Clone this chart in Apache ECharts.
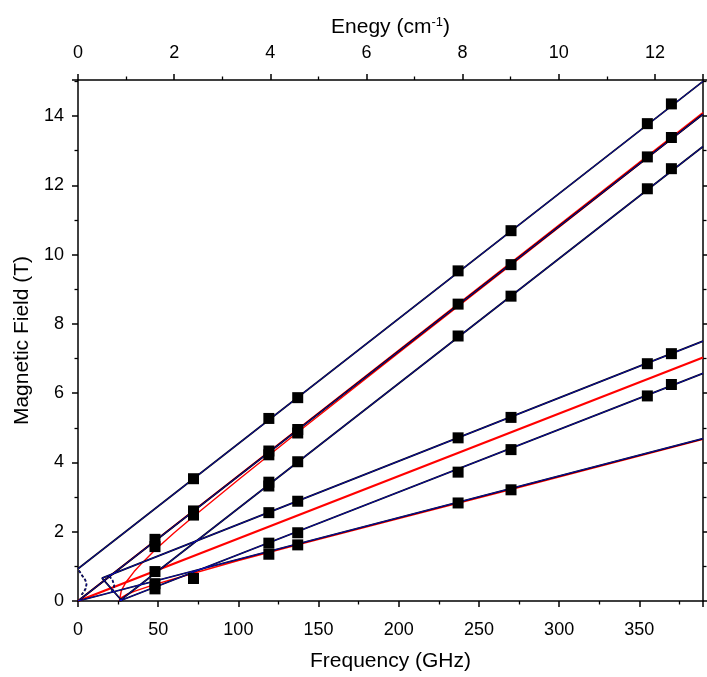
<!DOCTYPE html>
<html>
<head>
<meta charset="utf-8">
<script src="https://cdn.jsdelivr.net/npm/echarts@6/dist/echarts.min.js"></script>
<style>
html,body{margin:0;padding:0;background:#fff;}
#c{width:707px;height:677px;}
</style>
</head>
<body>
<div id="c"></div>
<script>
// ---- Data (Frequency GHz, Field T) ----
const freqs = [48, 72, 119, 137, 237, 270, 355, 370];
const fieldsAt48  = [1.78, 1.57, 0.85, 0.50, 0.35];
const fieldsAt72  = [3.53, 2.60, 2.48, 0.65];
const fieldsAt119 = [5.27, 4.33, 4.22, 3.43, 3.32, 2.55, 1.67, 1.35];
const fieldsAt137 = [5.87, 4.95, 4.85, 4.02, 2.88, 1.97, 1.62];
const fieldsAt237 = [9.53, 8.57, 7.65, 4.71, 3.72, 2.83];
const fieldsAt270 = [10.69, 9.71, 8.80, 5.30, 4.37, 3.21];
const fieldsAt355 = [13.78, 12.82, 11.90, 6.85, 5.92];
const fieldsAt370 = [14.35, 13.38, 12.48, 7.14, 6.25];

// navy (simulated) branches
const navyA = [[0, 0.93], [389.7, 15.0]];
const navyB = [[0, 0], [389.7, 14.05]];
const navyC = [[25.8, 0], [389.7, 13.12]];
const navyD = [[27.5, 0], [15, 0.66], [389.7, 7.5]];
const navyF = [[25.8, 0], [389.7, 6.57]];
const navyG = [[0, 0], [389.7, 4.69]];
// dashed low-field loops
const dashLoop1 = [[0.6, 0.88], [2.5, 0.74], [4.6, 0.6], [5.3, 0.48], [4.8, 0.36], [3.6, 0.26], [2.2, 0.18]];
const dashLoop2 = [[19.5, 0.72], [21.5, 0.6], [22.6, 0.45], [22, 0.33], [20.5, 0.25]];
// red (simulated) branches
const redB  = [[0, 0], [389.7, 14.1]];
const redB2 = [[25.8, 0], [27, 0.3], [30, 0.55], [35, 0.85], [40, 1.1], [48, 1.47], [60, 1.97], [72, 2.44], [100, 3.5], [137, 4.87], [200, 7.17], [270, 9.7], [389.7, 14.05]];
const redE  = [[0, 0], [389.7, 7.03]];
const redG  = [[25.8, 0], [27, 0.1], [30, 0.18], [35, 0.28], [48, 0.48], [72, 0.8], [100, 1.17], [137, 1.62], [200, 2.38], [270, 3.22], [389.7, 4.67]];

// axis ranges
const freqMax = 389.7;
const energyMax = 13;
const fieldMax = 15.04;

const obs = [];
[fieldsAt48, fieldsAt72, fieldsAt119, fieldsAt137, fieldsAt237, fieldsAt270, fieldsAt355, fieldsAt370]
  .forEach((arr, i) => arr.forEach(v => obs.push([freqs[i], v])));

const FONT = 'Liberation Sans, Arial, sans-serif';
const series = [];
function redLine(d, w) {
  series.push({type: 'line', data: d, showSymbol: false, silent: true,
    lineStyle: {color: '#ff0000', width: w}, z: 2});
}
function navyLine(d, dashed) {
  series.push({type: 'line', data: d, showSymbol: false, silent: true,
    lineStyle: {color: '#000000', width: 1.8, type: dashed ? [3, 2] : 'solid'}, z: 3});
  series.push({type: 'line', data: d, showSymbol: false, silent: true,
    lineStyle: {color: '#1010f0', width: 0.7, type: dashed ? [3, 2] : 'solid'}, z: 4});
}
redLine(redB, 1.6);
redLine(redB2, 1.4);
redLine(redE, 2.2);
redLine(redG, 1.4);
navyLine(navyA); navyLine(navyB); navyLine(navyC);
navyLine(navyD); navyLine(navyF); navyLine(navyG);
navyLine(dashLoop1, true); navyLine(dashLoop2, true);
series.push({type: 'scatter', data: obs, symbol: 'rect', symbolSize: 11,
  itemStyle: {color: '#000', opacity: 1}, z: 10, silent: true});

const axisCommon = {
  axisLine: {show: true, onZero: false, lineStyle: {color: '#000', width: 1.5}},
  axisTick: {show: true, inside: false, length: 6, lineStyle: {color: '#000', width: 1.5}},
  minorTick: {show: true, splitNumber: 2, length: 3.5, lineStyle: {color: '#000', width: 1.3}},
  splitLine: {show: false},
  minorSplitLine: {show: false},
};

const chart = echarts.init(document.getElementById('c'), null, {renderer: 'canvas'});
chart.setOption({
  animation: false,
  backgroundColor: '#fff',
  grid: {left: 78, right: 4, top: 80, bottom: 76, containLabel: false, outerBoundsMode: 'none'},
  xAxis: [
    Object.assign({}, axisCommon, {
      type: 'value', position: 'bottom', min: 0, max: freqMax, interval: 50,
      axisLabel: {fontFamily: FONT, fontSize: 18, color: '#000', margin: 20, showMaxLabel: false},
      name: 'Frequency (GHz)', nameLocation: 'middle', nameGap: 50,
      nameTextStyle: {fontFamily: FONT, fontSize: 21, color: '#000'}
    }),
    Object.assign({}, axisCommon, {
      type: 'value', position: 'top', min: 0, max: energyMax, interval: 2,
      axisLabel: {fontFamily: FONT, fontSize: 18, color: '#000', margin: 18, showMaxLabel: false},
      name: 'Enegy (cm{sup|-1})', nameLocation: 'middle', nameGap: 41,
      nameTextStyle: {fontFamily: FONT, fontSize: 21, color: '#000',
        rich: {sup: {fontFamily: FONT, fontSize: 13, color: '#000', verticalAlign: 'bottom', padding: [0, 0, 10, 0]}}}
    })
  ],
  yAxis: [
    Object.assign({}, axisCommon, {
      type: 'value', position: 'left', min: 0, max: fieldMax, interval: 2,
      axisLabel: {fontFamily: FONT, fontSize: 18, color: '#000', margin: 14, showMaxLabel: false},
      name: 'Magnetic Field (T)', nameLocation: 'middle', nameGap: 45, nameRotate: 90,
      nameTextStyle: {fontFamily: FONT, fontSize: 21, color: '#000'}
    }),
    Object.assign({}, axisCommon, {
      type: 'value', position: 'right', min: 0, max: fieldMax, interval: 2,
      axisLabel: {show: false}
    })
  ],
  series: series
});
</script>
</body>
</html>
